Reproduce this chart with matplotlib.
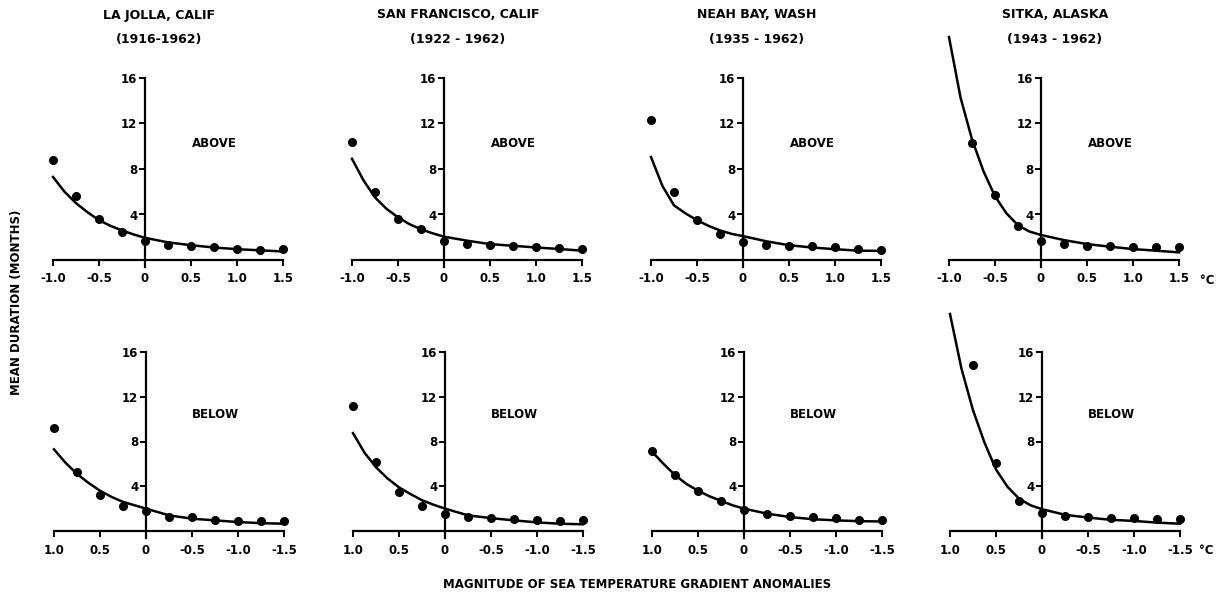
import numpy as np
import matplotlib
matplotlib.use("Agg")
import matplotlib.pyplot as plt

plt.rcParams['font.family'] = ['DejaVu Sans']
plt.rcParams['font.weight'] = 'bold'

stations = ["LA JOLLA, CALIF", "SAN FRANCISCO, CALIF", "NEAH BAY, WASH", "SITKA, ALASKA"]
periods = ["(1916-1962)", "(1922 - 1962)", "(1935 - 1962)", "(1943 - 1962)"]

# observation magnitudes (above: -1.0..1.5 ; below: 1.0..-1.5)
x_above = [-1.0, -0.75, -0.5, -0.25, 0.0, 0.25, 0.5, 0.75, 1.0, 1.25, 1.5]
x_below = [1.0, 0.75, 0.5, 0.25, 0.0, -0.25, -0.5, -0.75, -1.0, -1.25, -1.5]

# observed mean durations (months)
lajolla_above = [8.8, 5.6, 3.6, 2.5, 1.7, 1.35, 1.2, 1.1, 1.0, 0.9, 0.95]
sanfran_above = [10.35, 5.95, 3.6, 2.7, 1.7, 1.45, 1.3, 1.25, 1.1, 1.05, 0.95]
neahbay_above = [12.3, 6.0, 3.55, 2.3, 1.55, 1.35, 1.25, 1.2, 1.1, 1.0, 0.9]
sitka_above = [np.nan, 10.3, 5.7, 3.0, 1.7, 1.4, 1.25, 1.2, 1.15, 1.1, 1.1]

lajolla_below = [9.2, 5.3, 3.25, 2.2, 1.8, 1.25, 1.25, 1.0, 0.9, 0.85, 0.9]
sanfran_below = [11.2, 6.2, 3.5, 2.2, 1.55, 1.25, 1.15, 1.07, 0.95, 0.86, 0.95]
neahbay_below = [7.15, 5.0, 3.6, 2.65, 1.85, 1.55, 1.3, 1.25, 1.2, 1.0, 1.0]
sitka_below = [np.nan, 14.8, 6.1, 2.7, 1.6, 1.35, 1.25, 1.15, 1.15, 1.05, 1.1]

# fitted curves
cx_above = [-1.0, -0.875, -0.75, -0.625, -0.5, -0.375, -0.25, -0.125, 0.0, 0.25, 0.5, 0.75, 1.0, 1.25, 1.5]
cx_below = [1.0, 0.875, 0.75, 0.625, 0.5, 0.375, 0.25, 0.125, 0.0, -0.25, -0.5, -0.75, -1.0, -1.25, -1.5]

lajolla_above_fit = [7.3, 6.0, 5.0, 4.2, 3.5, 3.0, 2.6, 2.25, 1.95, 1.55, 1.3, 1.1, 0.95, 0.85, 0.75]
sanfran_above_fit = [8.9, 7.0, 5.5, 4.5, 3.75, 3.15, 2.7, 2.35, 2.05, 1.7, 1.4, 1.25, 1.1, 0.97, 0.82]
neahbay_above_fit = [9.05, 6.5, 4.8, 4.1, 3.5, 3.0, 2.6, 2.3, 2.1, 1.65, 1.3, 1.1, 0.95, 0.82, 0.8]
sitka_above_fit = [19.6, 14.3, 10.6, 7.8, 5.6, 4.1, 3.05, 2.5, 2.2, 1.75, 1.4, 1.17, 0.96, 0.82, 0.67]

lajolla_below_fit = [7.3, 6.1, 5.1, 4.3, 3.6, 3.05, 2.6, 2.3, 2.0, 1.4, 1.1, 0.95, 0.8, 0.7, 0.65]
sanfran_below_fit = [8.75, 7.0, 5.7, 4.7, 3.9, 3.3, 2.75, 2.35, 2.0, 1.4, 1.15, 0.95, 0.77, 0.65, 0.6]
neahbay_below_fit = [7.1, 6.0, 5.0, 4.2, 3.6, 3.1, 2.7, 2.3, 2.0, 1.55, 1.25, 1.05, 0.95, 0.88, 0.85]
sitka_below_fit = [19.4, 14.5, 10.8, 7.9, 5.5, 3.95, 2.9, 2.3, 1.95, 1.45, 1.2, 1.0, 0.9, 0.75, 0.65]

above_obs = [lajolla_above, sanfran_above, neahbay_above, sitka_above]
below_obs = [lajolla_below, sanfran_below, neahbay_below, sitka_below]
above_fit = [lajolla_above_fit, sanfran_above_fit, neahbay_above_fit, sitka_above_fit]
below_fit = [lajolla_below_fit, sanfran_below_fit, neahbay_below_fit, sitka_below_fit]

xticks_above = [-1.0, -0.5, 0, 0.5, 1.0, 1.5]
xlabels_above = ["-1.0", "-0.5", "0", "0.5", "1.0", "1.5"]
xticks_below = [1.0, 0.5, 0, -0.5, -1.0, -1.5]
xlabels_below = ["1.0", "0.5", "0", "-0.5", "-1.0", "-1.5"]
yticks = [4, 8, 12, 16]
ylabels = ["4", "8", "12", "16"]

W, H = 1222, 597
fig = plt.figure(figsize=(W / 100, H / 100), dpi=100)

lefts_px = [53, 352, 651, 949]
width_px = 230
ymin = -0.6
ymax = 16.0


def make_ax(left_px, y0_px, y16_px, xlim):
    ppu = (y0_px - y16_px) / 16.0
    bottom_px = y0_px + (-ymin) * ppu
    top_px = y16_px
    ax = fig.add_axes([left_px / W, 1 - bottom_px / H, width_px / W, (bottom_px - top_px) / H])
    ax.set_xlim(*xlim)
    ax.set_ylim(ymin, ymax)
    ax.patch.set_alpha(0)
    for s in ['top', 'right']:
        ax.spines[s].set_visible(False)
    ax.spines['bottom'].set_position(('data', 0))
    ax.spines['left'].set_position(('data', 0))
    ax.spines['left'].set_bounds(ymin, 16)
    for s in ['bottom', 'left']:
        ax.spines[s].set_linewidth(1.6)
    ax.set_yticks(yticks)
    ax.set_yticklabels(ylabels, fontsize=8.5, fontweight='bold')
    ax.tick_params(axis='y', direction='out', length=4, width=1.4, pad=1.5)
    ax.tick_params(axis='x', direction='out', length=4, width=1.4, pad=5)
    return ax


for i in range(4):
    # top row (ABOVE)
    ax = make_ax(lefts_px[i], 260, 78, (-1.0, 1.5))
    ax.set_xticks(xticks_above)
    ax.set_xticklabels(xlabels_above, fontsize=8.5, fontweight='bold')
    ax.plot(cx_above, above_fit[i], color='black', lw=1.8, clip_on=False, zorder=3,
            solid_joinstyle='round')
    ax.plot(x_above, above_obs[i], 'o', color='black', ms=5.5, clip_on=False, zorder=4)
    ax.text(0.75, 10.2, "ABOVE", ha='center', va='center', fontsize=8.5, fontweight='bold')
    cx_px = lefts_px[i] + width_px * 0.46
    fig.text(cx_px / W, 1 - 15 / H, stations[i], ha='center', va='center', fontsize=9, fontweight='bold')
    fig.text(cx_px / W, 1 - 39 / H, periods[i], ha='center', va='center', fontsize=9, fontweight='bold')

    # bottom row (BELOW)
    axb = make_ax(lefts_px[i] + 1, 531, 352, (1.0, -1.5))
    axb.set_xticks(xticks_below)
    axb.set_xticklabels(xlabels_below, fontsize=8.5, fontweight='bold')
    axb.plot(cx_below, below_fit[i], color='black', lw=1.8, clip_on=False, zorder=3,
             solid_joinstyle='round')
    axb.plot(x_below, below_obs[i], 'o', color='black', ms=5.5, clip_on=False, zorder=4)
    axb.text(-0.75, 10.4, "BELOW", ha='center', va='center', fontsize=8.5, fontweight='bold')

fig.text(1207 / W, 1 - 281 / H, "°C", ha='center', va='center', fontsize=8.5, fontweight='bold')
fig.text(1206 / W, 1 - 551 / H, "°C", ha='center', va='center', fontsize=8.5, fontweight='bold')
fig.text(637 / W, 1 - 585 / H, "MAGNITUDE OF SEA TEMPERATURE GRADIENT ANOMALIES",
         ha='center', va='center', fontsize=8.5, fontweight='bold')
fig.text(17 / W, 1 - 302 / H, "MEAN DURATION (MONTHS)", rotation=90,
         ha='center', va='center', fontsize=8.5, fontweight='bold')

fig.savefig("out.png", dpi=100)
